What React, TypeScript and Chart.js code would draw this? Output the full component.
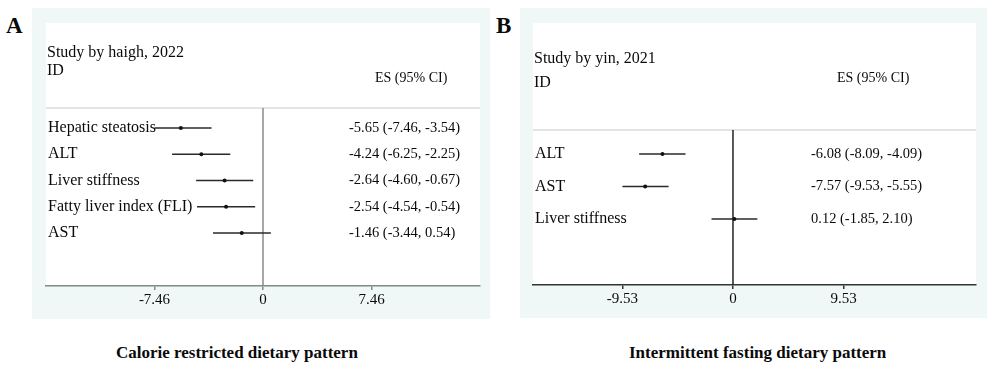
import React, { useEffect, useRef } from "react";
import { Chart, registerables } from "chart.js";

Chart.register(...registerables);

// ---- Panel A data ----
const ROWS_A = ["Hepatic steatosis", "ALT", "Liver stiffness", "Fatty liver index (FLI)", "AST"];
const ES_A = [-5.65, -4.24, -2.64, -2.54, -1.46];
const LO_A = [-7.46, -6.25, -4.6, -4.54, -3.44];
const HI_A = [-3.54, -2.25, -0.67, -0.54, 0.54];
const TICKS_A = [-7.46, 0, 7.46];
const TITLE_A = "Study by haigh, 2022";
const CAPTION_A = "Calorie restricted dietary pattern";

// ---- Panel B data ----
const ROWS_B = ["ALT", "AST", "Liver stiffness"];
const ES_B = [-6.08, -7.57, 0.12];
const LO_B = [-8.09, -9.53, -1.85];
const HI_B = [-4.09, -5.55, 2.1];
const TICKS_B = [-9.53, 0, 9.53];
const TITLE_B = "Study by yin, 2021";
const CAPTION_B = "Intermittent fasting dietary pattern";

const SERIF = "'Liberation Serif', 'Times New Roman', serif";

const fmt = (v: number) => v.toFixed(2);
const tickFmt = (v: number) => (v === 0 ? "0" : v.toFixed(2));

type PanelProps = {
  left: number;
  top: number;
  width: number;
  height: number;
  rows: string[];
  es: number[];
  lo: number[];
  hi: number[];
  ticks: number[];
  title: string;
  xMin: number;
  xMax: number;
  yMin: number;
  yMax: number;
  pad: { left: number; right: number; top: number };
  bottomH: number;
  innerTop: number;
  titleY: number;
  idY: number;
  headerX: number;
  headerY: number;
  esX: number;
  axisColor: string;
  zeroColor: string;
};

function Panel(p: PanelProps) {
  const ref = useRef<HTMLCanvasElement | null>(null);
  useEffect(() => {
    const canvas = ref.current;
    if (!canvas) return;
    const decor = {
      id: "forestDecor",
      beforeDraw(chart: any) {
        const { ctx, chartArea } = chart;
        ctx.save();
        ctx.fillStyle = "#ffffff";
        ctx.fillRect(chartArea.left, p.innerTop, chartArea.right - chartArea.left, chartArea.bottom - p.innerTop);
        ctx.restore();
      },
      beforeDatasetsDraw(chart: any) {
        const { ctx, chartArea, scales } = chart;
        const xs = scales.x;
        const ys = scales.y;
        ctx.save();
        ctx.strokeStyle = "#d9dddd";
        ctx.lineWidth = 1.5;
        ctx.beginPath();
        ctx.moveTo(chartArea.left, chartArea.top);
        ctx.lineTo(chartArea.right, chartArea.top);
        ctx.stroke();
        const x0 = xs.getPixelForValue(0);
        ctx.strokeStyle = p.zeroColor;
        ctx.lineWidth = 1.5;
        ctx.beginPath();
        ctx.moveTo(x0, chartArea.top);
        ctx.lineTo(x0, chartArea.bottom);
        ctx.stroke();
        ctx.strokeStyle = "#2a2a2a";
        ctx.lineWidth = 1.5;
        p.es.forEach((_, i) => {
          const y = ys.getPixelForValue(i);
          ctx.beginPath();
          ctx.moveTo(xs.getPixelForValue(p.lo[i]), y);
          ctx.lineTo(xs.getPixelForValue(p.hi[i]), y);
          ctx.stroke();
        });
        ctx.restore();
      },
      afterDraw(chart: any) {
        const { ctx, chartArea, scales } = chart;
        const ys = scales.y;
        ctx.save();
        ctx.fillStyle = "#0a0a0a";
        ctx.textBaseline = "middle";
        ctx.textAlign = "left";
        ctx.font = `16px ${SERIF}`;
        ctx.fillText(p.title, chartArea.left + 1, p.titleY);
        ctx.fillText("ID", chartArea.left + 1, p.idY);
        ctx.font = `14px ${SERIF}`;
        ctx.fillText("ES (95% CI)", p.headerX, p.headerY);
        p.rows.forEach((r, i) => {
          const y = ys.getPixelForValue(i);
          ctx.font = `16px ${SERIF}`;
          ctx.fillText(r, chartArea.left + 2, y);
          ctx.font = `14.5px ${SERIF}`;
          ctx.fillText(`${fmt(p.es[i])} (${fmt(p.lo[i])}, ${fmt(p.hi[i])})`, p.esX, y);
        });
        ctx.restore();
      },
    };
    const chart = new Chart(canvas, {
      type: "scatter",
      data: {
        datasets: [
          {
            data: p.es.map((v, i) => ({ x: v, y: i })),
            pointRadius: 2,
            pointBackgroundColor: "#111111",
            pointBorderWidth: 0,
            showLine: false,
          },
        ],
      },
      options: {
        animation: false,
        responsive: false,
        maintainAspectRatio: false,
        layout: { padding: { left: p.pad.left, right: p.pad.right, top: p.pad.top, bottom: 0 } },
        plugins: { legend: { display: false }, tooltip: { enabled: false } },
        scales: {
          x: {
            type: "linear",
            min: p.xMin,
            max: p.xMax,
            afterBuildTicks: (s: any) => {
              s.ticks = p.ticks.map((v) => ({ value: v }));
            },
            afterFit: (s: any) => {
              s.height = p.bottomH;
            },
            ticks: {
              callback: (v: any) => tickFmt(Number(v)),
              font: { family: SERIF, size: 15 },
              color: "#0a0a0a",
              padding: 1,
              maxRotation: 0,
              autoSkip: false,
            },
            grid: {
              display: true,
              drawOnChartArea: false,
              drawTicks: true,
              tickLength: 4,
              color: p.axisColor,
              lineWidth: 1.5,
            },
            border: { display: true, color: p.axisColor, width: 1.5 },
          },
          y: { type: "linear", min: p.yMin, max: p.yMax, reverse: true, display: false },
        },
      },
      plugins: [decor],
    } as any);
    return () => chart.destroy();
  }, []);
  return (
    <div
      style={{
        position: "absolute",
        left: p.left,
        top: p.top,
        width: p.width,
        height: p.height,
        background: "#eff8f7",
      }}
    >
      <canvas ref={ref} width={p.width} height={p.height} style={{ width: p.width, height: p.height, display: "block" }} />
    </div>
  );
}

export default function App() {
  const letter: React.CSSProperties = {
    position: "absolute",
    fontFamily: SERIF,
    fontWeight: "bold",
    fontSize: 23,
    color: "#0a0a0a",
    lineHeight: "22px",
  };
  const caption: React.CSSProperties = {
    position: "absolute",
    fontFamily: SERIF,
    fontWeight: "bold",
    fontSize: 17,
    color: "#0a0a0a",
    lineHeight: "18px",
    whiteSpace: "nowrap",
  };
  return (
    <div style={{ position: "absolute", left: 0, top: 0, width: 1000, height: 374, background: "#fff", overflow: "hidden" }}>
      <div style={{ ...letter, left: 6, top: 15 }}>A</div>
      <div style={{ ...letter, left: 496, top: 15 }}>B</div>
      <Panel
        left={32}
        top={8}
        width={458}
        height={311}
        rows={ROWS_A}
        es={ES_A}
        lo={LO_A}
        hi={HI_A}
        ticks={TICKS_A}
        title={TITLE_A}
        xMin={-14.92}
        xMax={14.92}
        yMin={-0.76}
        yMax={6.02}
        pad={{ left: 14, right: 10, top: 100 }}
        bottomH={33}
        innerTop={15}
        titleY={45}
        idY={63}
        headerX={343}
        headerY={70}
        esX={317}
        axisColor="#7f8c8c"
        zeroColor="#8a8a8a"
      />
      <Panel
        left={520}
        top={8}
        width={467}
        height={310}
        rows={ROWS_B}
        es={ES_B}
        lo={LO_B}
        hi={HI_B}
        ticks={TICKS_B}
        title={TITLE_B}
        xMin={-17.24}
        xMax={20.95}
        yMin={-0.74}
        yMax={4.03}
        pad={{ left: 13, right: 11, top: 122 }}
        bottomH={33}
        innerTop={15}
        titleY={51}
        idY={75}
        headerX={317}
        headerY={70}
        esX={291}
        axisColor="#333333"
        zeroColor="#222222"
      />
      <div style={{ ...caption, left: 116, top: 344 }}>{CAPTION_A}</div>
      <div style={{ ...caption, left: 629, top: 344 }}>{CAPTION_B}</div>
    </div>
  );
}
